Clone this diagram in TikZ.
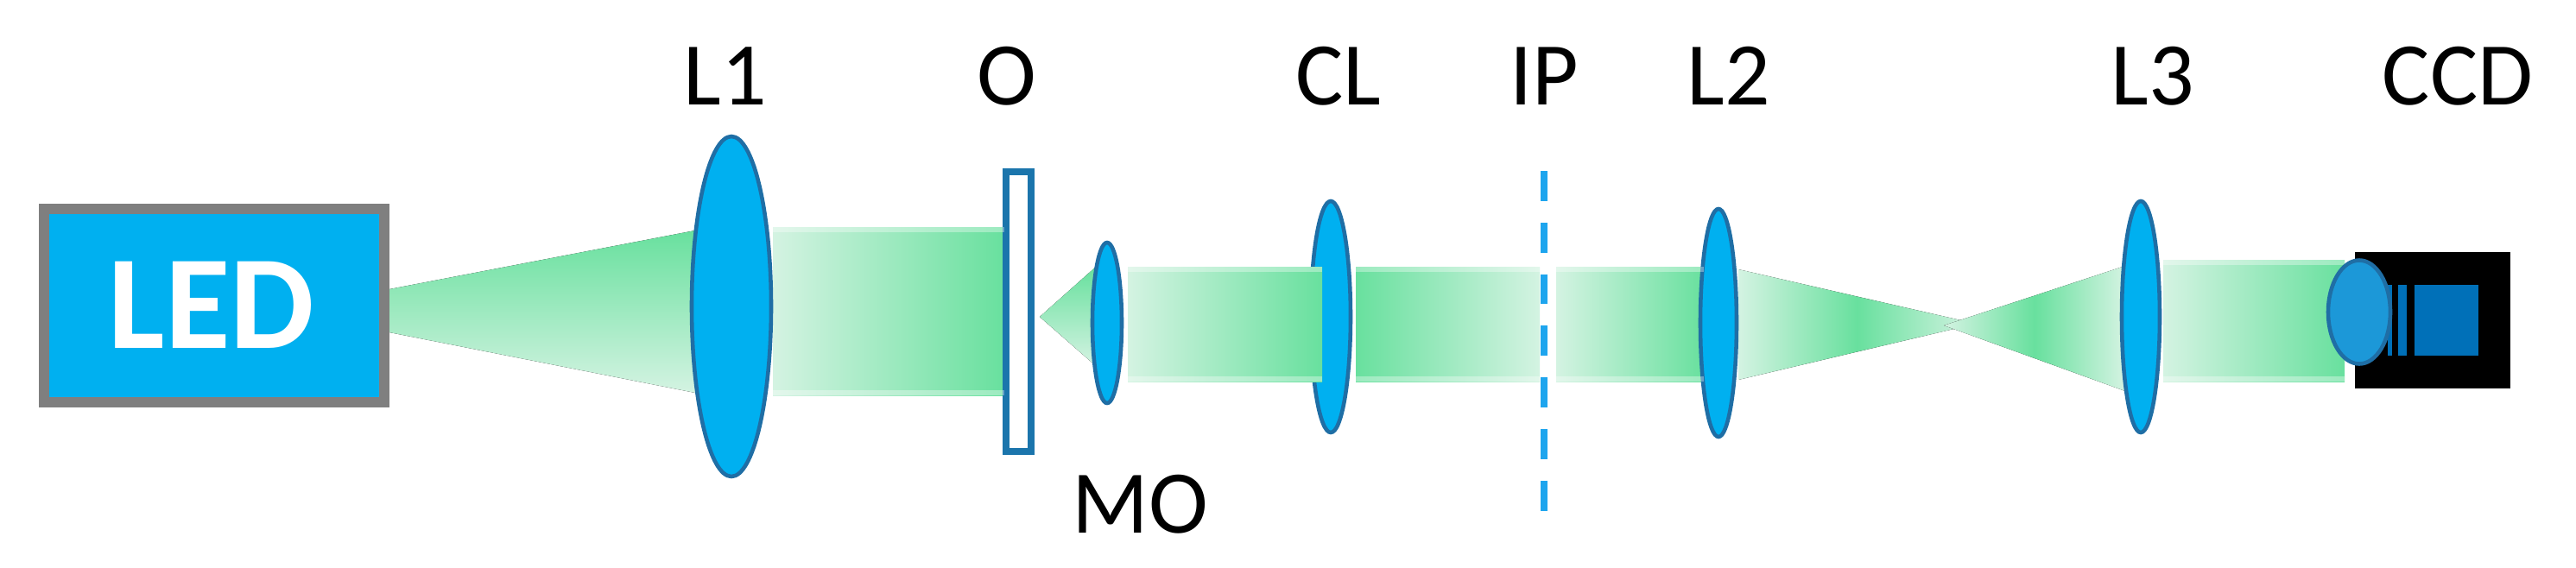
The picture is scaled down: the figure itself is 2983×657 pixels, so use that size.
\documentclass[tikz,border=0pt]{standalone}
\usepackage{fontspec}
\setmainfont{Carlito}
\definecolor{ledblue}{RGB}{0,176,240}
\definecolor{ledframe}{RGB}{127,127,127}
\definecolor{lensline}{RGB}{31,110,165}
\definecolor{beamdark}{RGB}{104,224,158}
\definecolor{beamlight}{RGB}{212,243,226}
\definecolor{planeblue}{RGB}{30,165,238}
\definecolor{platebl}{RGB}{27,117,172}
\definecolor{chipblue}{RGB}{0,112,184}
\definecolor{camlens}{RGB}{28,152,216}
\tikzset{
	lens/.style={fill=ledblue,draw=lensline,line width=1.3pt},
	beamright/.style={left color=beamlight,right color=beamdark},
	beamleft/.style={left color=beamdark,right color=beamlight},
	beamdown/.style={top color=beamdark,bottom color=beamlight},
	beamwaist/.style={left color=beamlight,right color=beamlight,middle color=beamdark},
	beamedge/.style={fill=white,opacity=0.35},
	lbl/.style={anchor=base,align=center,inner sep=0pt,font=\fontsize{29.5}{32}\selectfont},
}

\begin{document}
\begin{tikzpicture}[x=0.01cm,y=-0.01cm]
	\useasboundingbox (0,0) rectangle (2983,657);

	% light between LED and L1...................
	\fill [beamdown] (451,335) -- (805,267) -- (805,455) -- (451,385) -- cycle;

	% beams.....................
	\fill [beamright] (895,263) rectangle (1163,458);
	\fill [beamdown] (1204,367) -- (1268,310) -- (1268,423) -- cycle;
	\fill [beamleft] (1570,309) rectangle (1783,442);
	\fill [beamright] (1802,309) rectangle (1973,442);
	\fill [beamright] (2505,301) rectangle (2715,442);

	% crossing beams after L2...................
	\fill [beamwaist] (2013,312) -- (2288,375) -- (2013,440) -- cycle;
	\fill [beamwaist] (2251,377) -- (2461,308) -- (2461,453) -- cycle;

	% LED.....................
	\fill [ledframe] (45,236) rectangle (451,472);
	\fill [ledblue] (57,248) rectangle (439,460);
	\node [lbl,white,font=\fontsize{44}{48}\selectfont\bfseries] (led) at (245,403) {LED};

	% object plate................
	\draw [platebl,fill=white,line width=2pt] (1165,199) rectangle (1194,523);

	% lenses....................
	\draw [lens] (847,355) ellipse (46 and 197);
	\draw [lens] (1282,374) ellipse (17 and 93);
	\draw [lens] (1541,367) ellipse (23 and 134);
	\draw [lens] (1990,374) ellipse (21 and 132);
	\draw [lens] (2479,367) ellipse (22 and 134);

	% beam in front of CL.......................
	\fill [beamright] (1306,309) rectangle (1531,442);

	% lighter rims of the beams..................
	\foreach \xa/\xb/\ya/\yb in {895/1163/263/458,1306/1531/309/442,1570/1783/309/442,1802/1973/309/442,2505/2715/301/442}{
		\fill [beamedge] (\xa,\ya) rectangle (\xb,\ya+6);
		\fill [beamedge] (\xa,\yb-6) rectangle (\xb,\yb);
	}

	% intermediate image plane...................
	\coordinate (iptop) at (1788,198);
	\coordinate (ipbot) at (1788,592);
	\draw [planeblue,line width=2pt,dash pattern=on 9.9pt off 7.1pt] (iptop) -- (ipbot);

	% CCD camera..................
	\fill [black] (2727,292) rectangle (2907,450);
	\fill [chipblue] (2796,330) rectangle (2870,412);
	\fill [chipblue] (2777,330) rectangle (2787,412);
	\fill [chipblue] (2765,330) rectangle (2770,412);
	\draw [draw=lensline,fill=camlens,line width=1.3pt] (2732,361.5) ellipse (36 and 60);

	% labels..............................
	\node [lbl] (lone) at (840,121) {L1};
	\node [lbl] (obj) at (1166,121) {O};
	\node [lbl] (cl) at (1550,121) {CL};
	\node [lbl] (ip) at (1788,121) {IP};
	\node [lbl] (ltwo) at (2002,121) {L2};
	\node [lbl] (lthree) at (2493,121) {L3};
	\node [lbl] (ccd) at (2846,121) {CCD};
	\node [lbl] (mo) at (1320,617) {MO};
\end{tikzpicture}
\end{document}
